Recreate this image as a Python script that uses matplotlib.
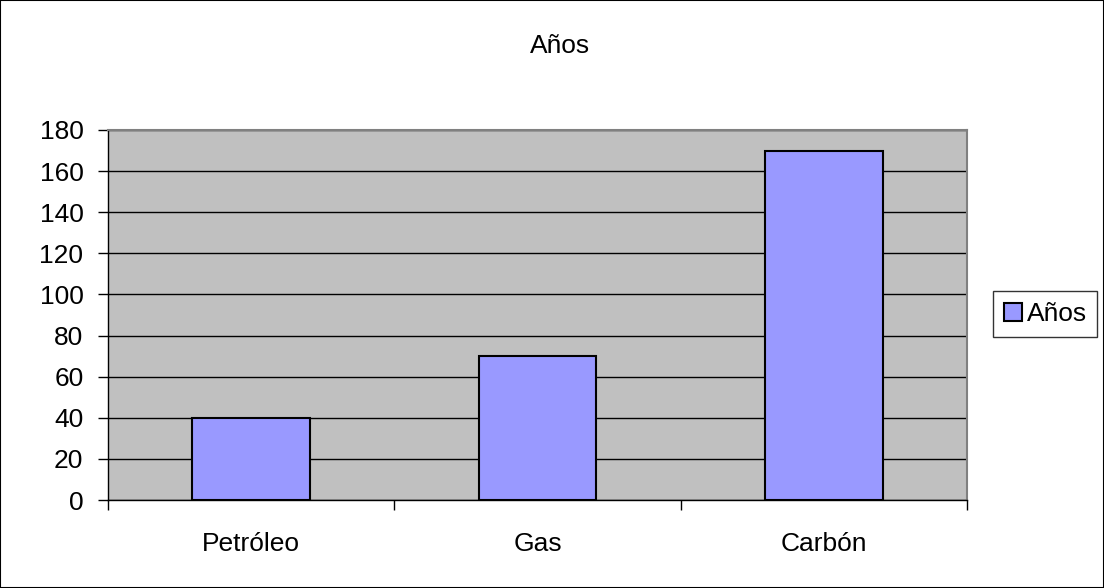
import matplotlib
matplotlib.use("Agg")
import matplotlib.pyplot as plt
import matplotlib.patches as patches
import numpy as np

plt.rcParams['font.family'] = ['Liberation Sans', 'DejaVu Sans']

categorias = ["Petróleo", "Gas", "Carbón"]
anios = [40, 70, 170]
serie = "Años"
y_ticks = list(range(0, 181, 20))

fs = 19

fig = plt.figure(figsize=(11.04, 5.88), dpi=100)
W, H = 1104, 588
ax = fig.add_axes([108 / W, 1 - 500 / H, (967 - 108) / W, (500 - 130) / H])
ax.set_facecolor("#C0C0C0")

x = np.arange(len(categorias))
ax.bar(x, anios, width=0.41, color="#9999FF", edgecolor="black", linewidth=1.5,
       label=serie, zorder=3)

ax.set_xlim(-0.5, len(categorias) - 0.5)
ax.set_ylim(0, 180)
ax.set_yticks(y_ticks)
ax.tick_params(axis="y", labelsize=fs, length=7.2, width=1, direction="out", pad=10.5)
ax.yaxis.grid(True, color="black", linewidth=1, zorder=1)
ax.set_axisbelow(True)

# separadores de categorías como ticks mayores, etiquetas en los menores
ax.set_xticks(np.arange(-0.5, len(categorias), 1.0))
ax.set_xticklabels([])
ax.tick_params(axis="x", which="major", length=7.2, width=1, direction="out")
ax.set_xticks(x, minor=True)
ax.set_xticklabels(categorias, minor=True)
ax.tick_params(axis="x", which="minor", length=0, labelsize=fs, pad=23)

for s in ["top", "right"]:
    ax.spines[s].set_color("#808080")
    ax.spines[s].set_linewidth(1.5)
for s in ["left", "bottom"]:
    ax.spines[s].set_color("black")
    ax.spines[s].set_linewidth(1)

fig.text(560 / W, 1 - 46 / H, serie, ha="center", va="center", fontsize=fs)

leg = ax.legend(loc="center left", bbox_to_anchor=(993 / W, 1 - 314 / H),
                bbox_transform=fig.transFigure, fontsize=fs, frameon=True,
                fancybox=False, edgecolor="black", handlelength=0.68,
                handleheight=0.68, handletextpad=0.2, borderpad=0.4,
                borderaxespad=0)
leg.get_frame().set_linewidth(1)

fig.patches.append(patches.Rectangle((0, 0), 1, 1, transform=fig.transFigure,
                                     fill=False, edgecolor="black", linewidth=1.5))

fig.savefig("out.png", dpi=100, facecolor="white")
